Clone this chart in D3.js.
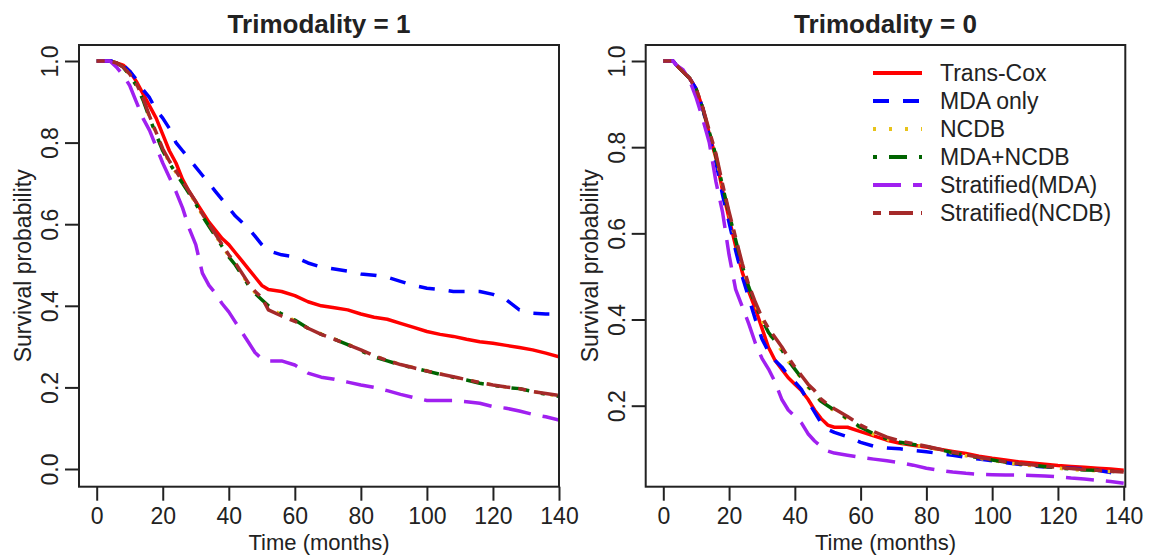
<!DOCTYPE html>
<html>
<head>
<meta charset="utf-8">
<script src="https://cdn.jsdelivr.net/npm/d3@7"></script>
<style>
    body { margin: 0; background: #fff; }
    svg text { font-family: "Liberation Sans", Arial, sans-serif; fill: #222; }
</style>
</head>
<body>
<svg id="chart" width="1157" height="560"></svg>
<script>
// Survival curves, two panels (Trimodality = 1 / Trimodality = 0)

const seriesNames = ['Trans-Cox', 'MDA only', 'NCDB', 'MDA+NCDB', 'Stratified(MDA)', 'Stratified(NCDB)'];

const xTicks = [0, 20, 40, 60, 80, 100, 120, 140];
const yTicksLeft = [0.0, 0.2, 0.4, 0.6, 0.8, 1.0];
const yTicksRight = [0.2, 0.4, 0.6, 0.8, 1.0];

// Trimodality = 1 : months and survival per series
const timesTri1 = [0, 4, 6, 8, 10, 12, 14, 16, 18, 20, 22, 24, 26, 28, 30, 32, 34, 36, 38, 40, 42, 44, 46, 48, 50,
    52, 56, 60, 64, 68, 72, 76, 80, 84, 88, 92, 96, 100, 104, 108, 112, 116, 120, 124, 128, 132, 136, 140];
const transCoxTri1 = [1, 1, .995, .99, .975, .95, .92, .89, .86, .82, .78, .75, .71, .68, .655, .63, .605, .585, .565, .55,
    .53, .51, .49, .47, .45, .44, .435, .425, .41, .40, .395, .39, .38, .372, .367, .357, .347, .337, .33, .325,
    .318, .312, .308, .303, .298, .292, .284, .275];
const mdaOnlyTri1 = [1, 1, 1, .99, .975, .955, .93, .91, .88, .86, .835, .80, .78, .76, .74, .72, .70, .68, .66, .64,
    .62, .605, .59, .57, .55, .535, .525, .52, .505, .495, .49, .485, .478, .475, .47, .46, .45, .443, .44, .435,
    .435, .435, .428, .415, .39, .382, .38, .38];
const ncdbTri1 = [1, 1, .995, .985, .966, .942, .907, .862, .822, .782, .752, .727, .702, .677, .652, .622, .597, .572, .547, .522,
    .502, .477, .452, .432, .417, .395, .378, .364, .345, .331, .319, .306, .291, .277, .266, .256, .249, .241, .233, .226,
    .219, .211, .206, .201, .197, .19, .184, .179];
const mdaNcdbTri1 = [1, 1, .995, .985, .965, .94, .905, .86, .82, .78, .75, .725, .70, .675, .65, .62, .595, .57, .545, .52,
    .50, .475, .45, .43, .415, .40, .38, .365, .345, .33, .318, .305, .29, .275, .265, .255, .248, .24, .232, .225,
    .218, .21, .205, .2, .197, .19, .183, .178];
const stratMdaTri1 = [1, 1, .985, .965, .94, .90, .86, .83, .79, .75, .715, .68, .64, .59, .55, .48, .45, .43, .405, .385,
    .36, .335, .31, .285, .27, .265, .265, .255, .235, .225, .22, .213, .206, .2, .192, .183, .175, .168, .168, .168,
    .165, .161, .153, .149, .142, .134, .128, .12];
const stratNcdbTri1 = [1, 1, .995, .985, .968, .945, .91, .865, .825, .785, .755, .73, .705, .68, .655, .625, .6, .575, .55, .525,
    .505, .48, .455, .435, .42, .39, .375, .362, .345, .33, .318, .305, .292, .278, .266, .256, .248, .24, .233, .226,
    .219, .212, .206, .201, .197, .19, .185, .18];

// Trimodality = 0
const timesTri0 = [0, 3, 4, 6, 8, 10, 12, 14, 16, 18, 20, 22, 24, 26, 28, 30, 32, 34, 36, 38, 40, 42, 44, 46, 48, 50,
    52, 56, 60, 64, 68, 72, 76, 80, 84, 88, 92, 96, 100, 104, 108, 112, 116, 120, 124, 128, 132, 136, 140];
const transCoxTri0 = [1, 1, .99, .975, .96, .935, .89, .83, .775, .70, .635, .57, .51, .465, .425, .38, .335, .305, .285, .265,
    .25, .235, .215, .19, .17, .155, .15, .15, .14, .13, .12, .113, .108, .104, .099, .094, .089, .083, .078, .074,
    .07, .067, .064, .061, .059, .057, .055, .053, .05];
const mdaOnlyTri0 = [1, 1, .99, .975, .96, .935, .89, .825, .765, .69, .625, .56, .50, .45, .40, .355, .325, .305, .29, .27,
    .255, .238, .21, .185, .16, .145, .138, .128, .115, .106, .102, .1, .096, .093, .089, .085, .08, .076, .072, .068,
    .064, .06, .058, .057, .055, .053, .05, .045, .035];
const ncdbTri0 = [1, 1, .99, .975, .96, .935, .89, .835, .78, .71, .645, .585, .525, .475, .435, .398, .368, .348, .328, .303,
    .283, .263, .243, .228, .208, .198, .188, .168, .148, .133, .122, .114, .109, .104, .097, .09, .084, .078, .073, .068,
    .064, .061, .058, .055, .052, .05, .049, .047, .045];
const mdaNcdbTri0 = [1, 1, .99, .975, .96, .935, .89, .835, .78, .71, .645, .585, .525, .475, .435, .40, .37, .35, .33, .305,
    .285, .265, .245, .23, .21, .2, .19, .17, .15, .135, .123, .115, .11, .105, .098, .091, .085, .079, .074, .069,
    .065, .062, .059, .056, .053, .051, .05, .048, .046];
const stratMdaTri0 = [1, 1, .99, .98, .955, .915, .865, .81, .72, .65, .55, .47, .43, .39, .345, .31, .285, .255, .215, .19,
    .175, .16, .135, .118, .105, .095, .09, .085, .08, .076, .072, .068, .062, .055, .05, .046, .043, .041, .04, .039,
    .039, .038, .037, .035, .032, .03, .027, .024, .02];
const stratNcdbTri0 = [1, 1, .99, .975, .96, .935, .892, .838, .785, .715, .65, .59, .53, .48, .44, .405, .38, .358, .337, .312,
    .29, .27, .25, .235, .215, .203, .193, .175, .155, .14, .127, .118, .112, .106, .099, .092, .086, .08, .075, .07,
    .066, .063, .06, .057, .054, .052, .05, .048, .046];

// styles (R colours / lty patterns)
const seriesColors = ['#ff0000', '#0000ff', '#e8c31a', '#006400', '#a020f0', '#a52a2a'];
const seriesDash = ['none', '16,14', '3,13', '4,12,18,12', '28,12', '8,8,24,8'];

const svg = d3.select('#chart');

function drawPanel(opts) {
    const { title, times, series, yTicks, box, xRange, yDomain, yRange } = opts;

    const x = d3.scaleLinear().domain([0, 140]).range(xRange);
    const y = d3.scaleLinear().domain(yDomain).range(yRange);

    const g = svg.append('g');
    const clipId = 'clip-' + Math.round(box.left);

    g.append('clipPath').attr('id', clipId)
        .append('rect')
        .attr('x', box.left).attr('y', box.top)
        .attr('width', box.right - box.left).attr('height', box.bottom - box.top);

    // curves
    const line = d3.line()
        .x(d => x(d[0]))
        .y(d => y(d[1]));

    const curves = g.append('g').attr('clip-path', `url(#${clipId})`);
    series.forEach((vals, i) => {
        const pts = times.map((t, k) => [t, vals[k]]);
        curves.append('path')
            .attr('d', line(pts))
            .attr('fill', 'none')
            .attr('stroke', seriesColors[i])
            .attr('stroke-width', 3.5)
            .attr('stroke-linejoin', 'round')
            .attr('stroke-dasharray', seriesDash[i]);
    });

    // x axis
    const xAxis = g.append('g')
        .attr('transform', `translate(0, ${box.bottom})`)
        .call(d3.axisBottom(x).tickValues(xTicks).tickSize(14).tickPadding(7));
    xAxis.select('.domain').remove();
    xAxis.selectAll('line').attr('stroke', '#222').attr('stroke-width', 2);
    xAxis.selectAll('text').attr('font-size', '23px').attr('fill', '#222')
        .style('font-family', '"Liberation Sans", Arial, sans-serif');

    // y axis, labels parallel to the axis
    const yAxis = g.append('g')
        .attr('transform', `translate(${box.left}, 0)`)
        .call(d3.axisLeft(y).tickValues(yTicks).tickSize(14).tickFormat(d3.format('.1f')));
    yAxis.select('.domain').remove();
    yAxis.selectAll('line').attr('stroke', '#222').attr('stroke-width', 2);
    yAxis.selectAll('text')
        .attr('x', 0).attr('y', 0).attr('dy', 0)
        .attr('transform', 'translate(-21, 0) rotate(-90)')
        .attr('text-anchor', 'middle')
        .attr('font-size', '23px').attr('fill', '#222')
        .style('font-family', '"Liberation Sans", Arial, sans-serif');

    // frame
    g.append('rect')
        .attr('x', box.left).attr('y', box.top)
        .attr('width', box.right - box.left).attr('height', box.bottom - box.top)
        .attr('fill', 'none').attr('stroke', '#222').attr('stroke-width', 2);

    const cx = (box.left + box.right) / 2;
    g.append('text')
        .attr('x', cx).attr('y', 33)
        .attr('text-anchor', 'middle')
        .attr('font-size', '26px').attr('font-weight', 'bold')
        .text(title);

    g.append('text')
        .attr('x', cx).attr('y', 550)
        .attr('text-anchor', 'middle')
        .attr('font-size', '22px')
        .text('Time (months)');

    g.append('text')
        .attr('transform', `translate(${box.left - 48}, ${(box.top + box.bottom) / 2}) rotate(-90)`)
        .attr('text-anchor', 'middle')
        .attr('font-size', '23px')
        .text('Survival probability');

    return g;
}

drawPanel({
    title: 'Trimodality = 1',
    times: timesTri1,
    series: [transCoxTri1, mdaOnlyTri1, ncdbTri1, mdaNcdbTri1, stratMdaTri1, stratNcdbTri1],
    yTicks: yTicksLeft,
    box: { left: 79, right: 559, top: 45, bottom: 486.7 },
    xRange: [96.7, 559],
    yDomain: [0, 1],
    yRange: [469, 61]
});

const right = drawPanel({
    title: 'Trimodality = 0',
    times: timesTri0,
    series: [transCoxTri0, mdaOnlyTri0, ncdbTri0, mdaNcdbTri0, stratMdaTri0, stratNcdbTri0],
    yTicks: yTicksRight,
    box: { left: 645.7, right: 1125.3, top: 45, bottom: 486.7 },
    xRange: [663.3, 1123.7],
    yDomain: [0.2, 1],
    yRange: [405.7, 61]
});

// legend (no box)
const legend = right.append('g').attr('transform', 'translate(873, 73)');
const items = legend.selectAll('.legend-item')
    .data(seriesNames)
    .enter()
    .append('g')
    .attr('class', 'legend-item')
    .attr('transform', (d, i) => `translate(0, ${i * 28})`);

items.append('line')
    .attr('x1', 0).attr('x2', 49)
    .attr('stroke', (d, i) => seriesColors[i])
    .attr('stroke-width', 4)
    .attr('stroke-dasharray', (d, i) => seriesDash[i]);

items.append('text')
    .attr('x', 67).attr('y', 8)
    .attr('font-size', '23px')
    .text(d => d);
</script>
</body>
</html>
